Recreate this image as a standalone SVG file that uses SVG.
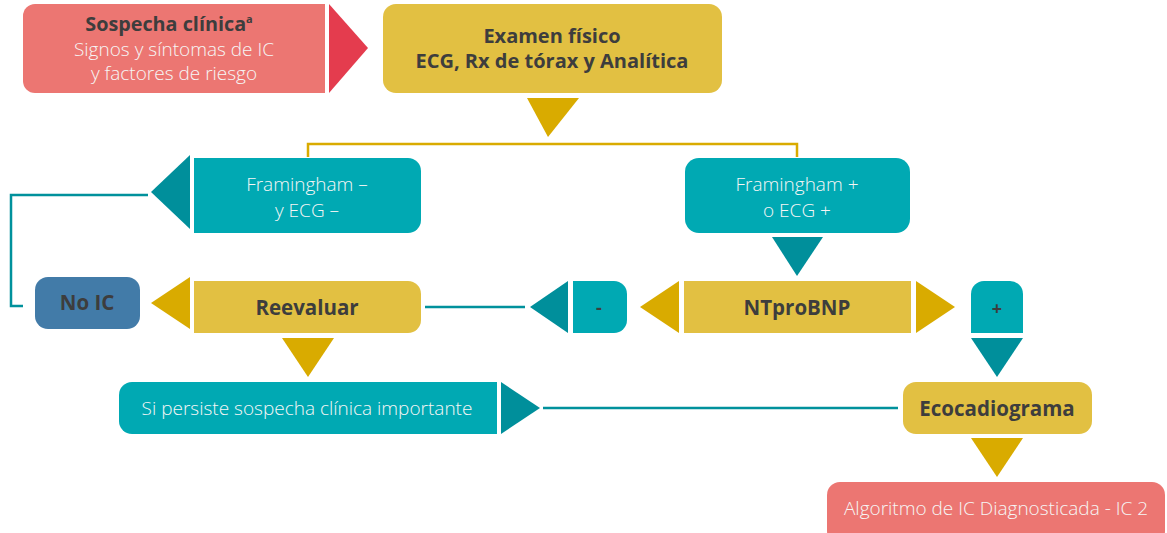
<svg xmlns="http://www.w3.org/2000/svg" width="1167" height="533" viewBox="0 0 1167 533">
  <style>
    .pink { fill: #ec7672; }
    .red { fill: #e43c4e; }
    .gold { fill: #e2c042; }
    .goldTri { fill: #d9ab00; }
    .teal { fill: #00a9b3; }
    .tealTri { fill: #008f9b; }
    .blue { fill: #427ba8; }
    .bold { font-family: "Open Sans", Lato, "Liberation Sans", sans-serif; font-weight: 700; fill: #3d3d3d; text-anchor: middle; font-size: 20.5px; }
    .light { font-family: "Open Sans", Lato, "Liberation Sans", sans-serif; font-weight: 300; fill: #f6f6f6; text-anchor: middle; font-size: 19px; }
    .lineGold { fill: none; stroke: #d9ab00; stroke-width: 2.5; }
    .lineTeal { fill: none; stroke: #00919c; stroke-width: 2.5; }
  </style>

  <g id="connectors">
    <polyline class="lineGold" points="308,157 308,144 797,144 797,157"/>
    <polyline class="lineTeal" points="148,195 11,195 11,306 23,306"/>
    <line class="lineTeal" x1="425" y1="307" x2="525" y2="307"/>
    <line class="lineTeal" x1="543" y1="408" x2="898" y2="408"/>
  </g>

  <g id="sospecha">
    <path class="pink" d="M35,4 H325 V93 H35 A12,12 0 0 1 23,81 V16 A12,12 0 0 1 35,4 Z"/>
    <polygon class="red" points="329,4 368,48 329,93"/>
    <text class="bold" x="169" y="31" style="font-size:19.8px">Sospecha clínica<tspan font-size="11" dy="-8">a</tspan></text>
    <text class="light" x="174" y="56">Signos y síntomas de IC</text>
    <text class="light" x="174" y="80">y factores de riesgo</text>
  </g>

  <g id="examen">
    <rect class="gold" x="383" y="4" width="339" height="89" rx="13"/>
    <polygon class="goldTri" points="527,98 579,98 548,137"/>
    <text class="bold" x="552" y="43" style="font-size:20px">Examen físico</text>
    <text class="bold" x="552" y="68" style="font-size:20px">ECG, Rx de tórax y Analítica</text>
  </g>

  <g id="framingham-neg">
    <path class="teal" d="M194,158 H408 A13,13 0 0 1 421,171 V220 A13,13 0 0 1 408,233 H194 Z"/>
    <polygon class="tealTri" points="190,155 151,192 190,229"/>
    <text class="light" x="307" y="191">Framingham –</text>
    <text class="light" x="307" y="217">y ECG –</text>
  </g>

  <g id="framingham-pos">
    <rect class="teal" x="685" y="158" width="225" height="75" rx="14"/>
    <polygon class="tealTri" points="772,237 823,237 797,276"/>
    <text class="light" x="797" y="191">Framingham +</text>
    <text class="light" x="797" y="217">o ECG +</text>
  </g>

  <g id="no-ic">
    <rect class="blue" x="35" y="277" width="105" height="52" rx="13"/>
    <text class="bold" x="87" y="310">No IC</text>
  </g>

  <g id="reevaluar">
    <polygon class="goldTri" points="190,277 151,303 190,329"/>
    <path class="gold" d="M194,281 H408 A13,13 0 0 1 421,294 V320 A13,13 0 0 1 408,333 H194 Z"/>
    <polygon class="goldTri" points="282,338 334,338 308,377"/>
    <text class="bold" x="307" y="315">Reevaluar</text>
  </g>

  <g id="negativo">
    <polygon class="tealTri" points="568,281 530,307 568,333"/>
    <path class="teal" d="M573,281 H614 A13,13 0 0 1 627,294 V320 A13,13 0 0 1 614,333 H573 Z"/>
    <text class="bold" x="599" y="314" style="font-size:18px">-</text>
  </g>

  <g id="ntprobnp">
    <polygon class="goldTri" points="679,281 640,307 679,333"/>
    <rect class="gold" x="684" y="281" width="227" height="52"/>
    <polygon class="goldTri" points="916,281 955,307 916,333"/>
    <text class="bold" x="797" y="315">NTproBNP</text>
  </g>

  <g id="positivo">
    <path class="teal" d="M971,333 V294 A13,13 0 0 1 984,281 H1010 A13,13 0 0 1 1023,294 V333 Z"/>
    <polygon class="tealTri" points="971,338 1023,338 997,377"/>
    <text class="bold" x="997" y="315" style="font-size:18px">+</text>
  </g>

  <g id="persiste">
    <path class="teal" d="M132,382 H497 V434 H132 A13,13 0 0 1 119,421 V395 A13,13 0 0 1 132,382 Z"/>
    <polygon class="tealTri" points="501,382 540,408 501,434"/>
    <text class="light" x="307" y="415">Si persiste sospecha clínica importante</text>
  </g>

  <g id="ecocardiograma">
    <rect class="gold" x="903" y="382" width="189" height="52" rx="13"/>
    <polygon class="goldTri" points="971,438 1023,438 997,477"/>
    <text class="bold" x="997" y="416">Ecocadiograma</text>
  </g>

  <g id="algoritmo">
    <rect class="pink" x="827" y="482" width="338" height="62" rx="13"/>
    <text class="light" x="996" y="515">Algoritmo de IC Diagnosticada - IC 2</text>
  </g>
</svg>
